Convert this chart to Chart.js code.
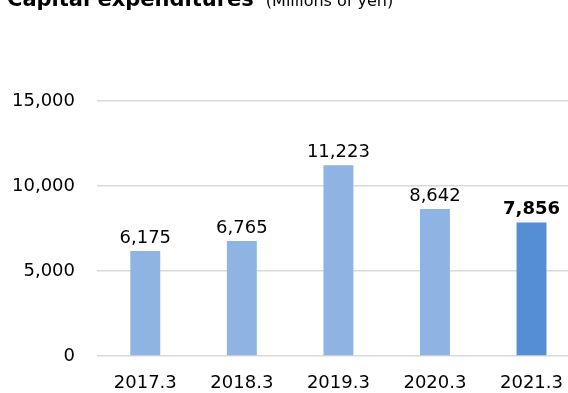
<!DOCTYPE html>
<html>
<head>
<meta charset="utf-8">
<script src="https://cdn.jsdelivr.net/npm/chart.js@4/dist/chart.umd.min.js"></script>
<style>
  html, body { margin: 0; padding: 0; background: #fff; overflow: hidden; }
  #wrap { position: relative; width: 580px; height: 393px; }
</style>
</head>
<body>
<div id="wrap"><canvas id="capex"></canvas></div>
<script>
const categories = ["2017.3", "2018.3", "2019.3", "2020.3", "2021.3"];
const capexValues = [6175, 6765, 11223, 8642, 7856];
const yTicks = [0, 5000, 10000, 15000];
const titleMain = "Capital expenditures";
const titleUnit = "(Millions of yen)";

const FONT = "'DejaVu Sans', Verdana, sans-serif";
const lightBlue = "#8eb4e3";
const darkBlue = "#558ed5";

var barColors = capexValues.map((v, i) => i === capexValues.length - 1 ? darkBlue : lightBlue);

// title sits partly above the canvas edge like the original crop
const titlePlugin = {
    id: "titleText",
    afterDraw(chart) {
        let ctx = chart.ctx;
        ctx.save();
        ctx.fillStyle = "#000";
        ctx.textBaseline = "alphabetic";
        ctx.textAlign = "left";
        ctx.font = "bold 21px " + FONT;
        ctx.fillText(titleMain, 7, 6);
        let w = ctx.measureText(titleMain).width;
        ctx.font = "16px " + FONT;
        ctx.fillText(titleUnit, 7 + w + 12, 6);
        ctx.restore();
    }
};

const valueLabels = {
    id: "valueLabels",
    afterDatasetsDraw(chart) {
        let ctx = chart.ctx;
        let meta = chart.getDatasetMeta(0);
        ctx.save();
        ctx.fillStyle = "#000";
        ctx.textAlign = "center";
        ctx.textBaseline = "alphabetic";
        meta.data.forEach((bar, i) => {
            let last = i === capexValues.length - 1;
            ctx.font = (last ? "bold " : "") + "18px " + FONT;
            ctx.fillText(capexValues[i].toLocaleString("en-US"), bar.x, bar.y - 8);
        });
        ctx.restore();
    }
};

new Chart(document.getElementById("capex"), {
    type: "bar",
    data: {
        labels: categories,
        datasets: [{
            data: capexValues,
            backgroundColor: barColors,
            barPercentage: 0.62,
            categoryPercentage: 0.5
        }]
    },
    options: {
        responsive: true,
        maintainAspectRatio: false,
        animation: false,
        layout: { padding: { top: 101, right: 0, left: 0, bottom: 0 } },
        plugins: { legend: { display: false }, tooltip: { enabled: false } },
        scales: {
            x: {
                grid: { display: false, drawTicks: false },
                border: { display: false },
                ticks: { color: "#000", font: { family: FONT, size: 18 }, padding: 17 },
                afterFit(scale) { scale.height = 37; }
            },
            y: {
                min: 0,
                max: 15000,
                afterBuildTicks(scale) { scale.ticks = yTicks.map(v => ({ value: v })); },
                grid: { color: "#d9d9d9", lineWidth: 1.5, drawTicks: false },
                border: { display: false },
                ticks: {
                    color: "#000",
                    font: { family: FONT, size: 18 },
                    padding: 22,
                    callback: v => v.toLocaleString("en-US")
                },
                afterFit(scale) { scale.width = 97; }
            }
        }
    },
    plugins: [titlePlugin, valueLabels]
});
</script>
</body>
</html>
